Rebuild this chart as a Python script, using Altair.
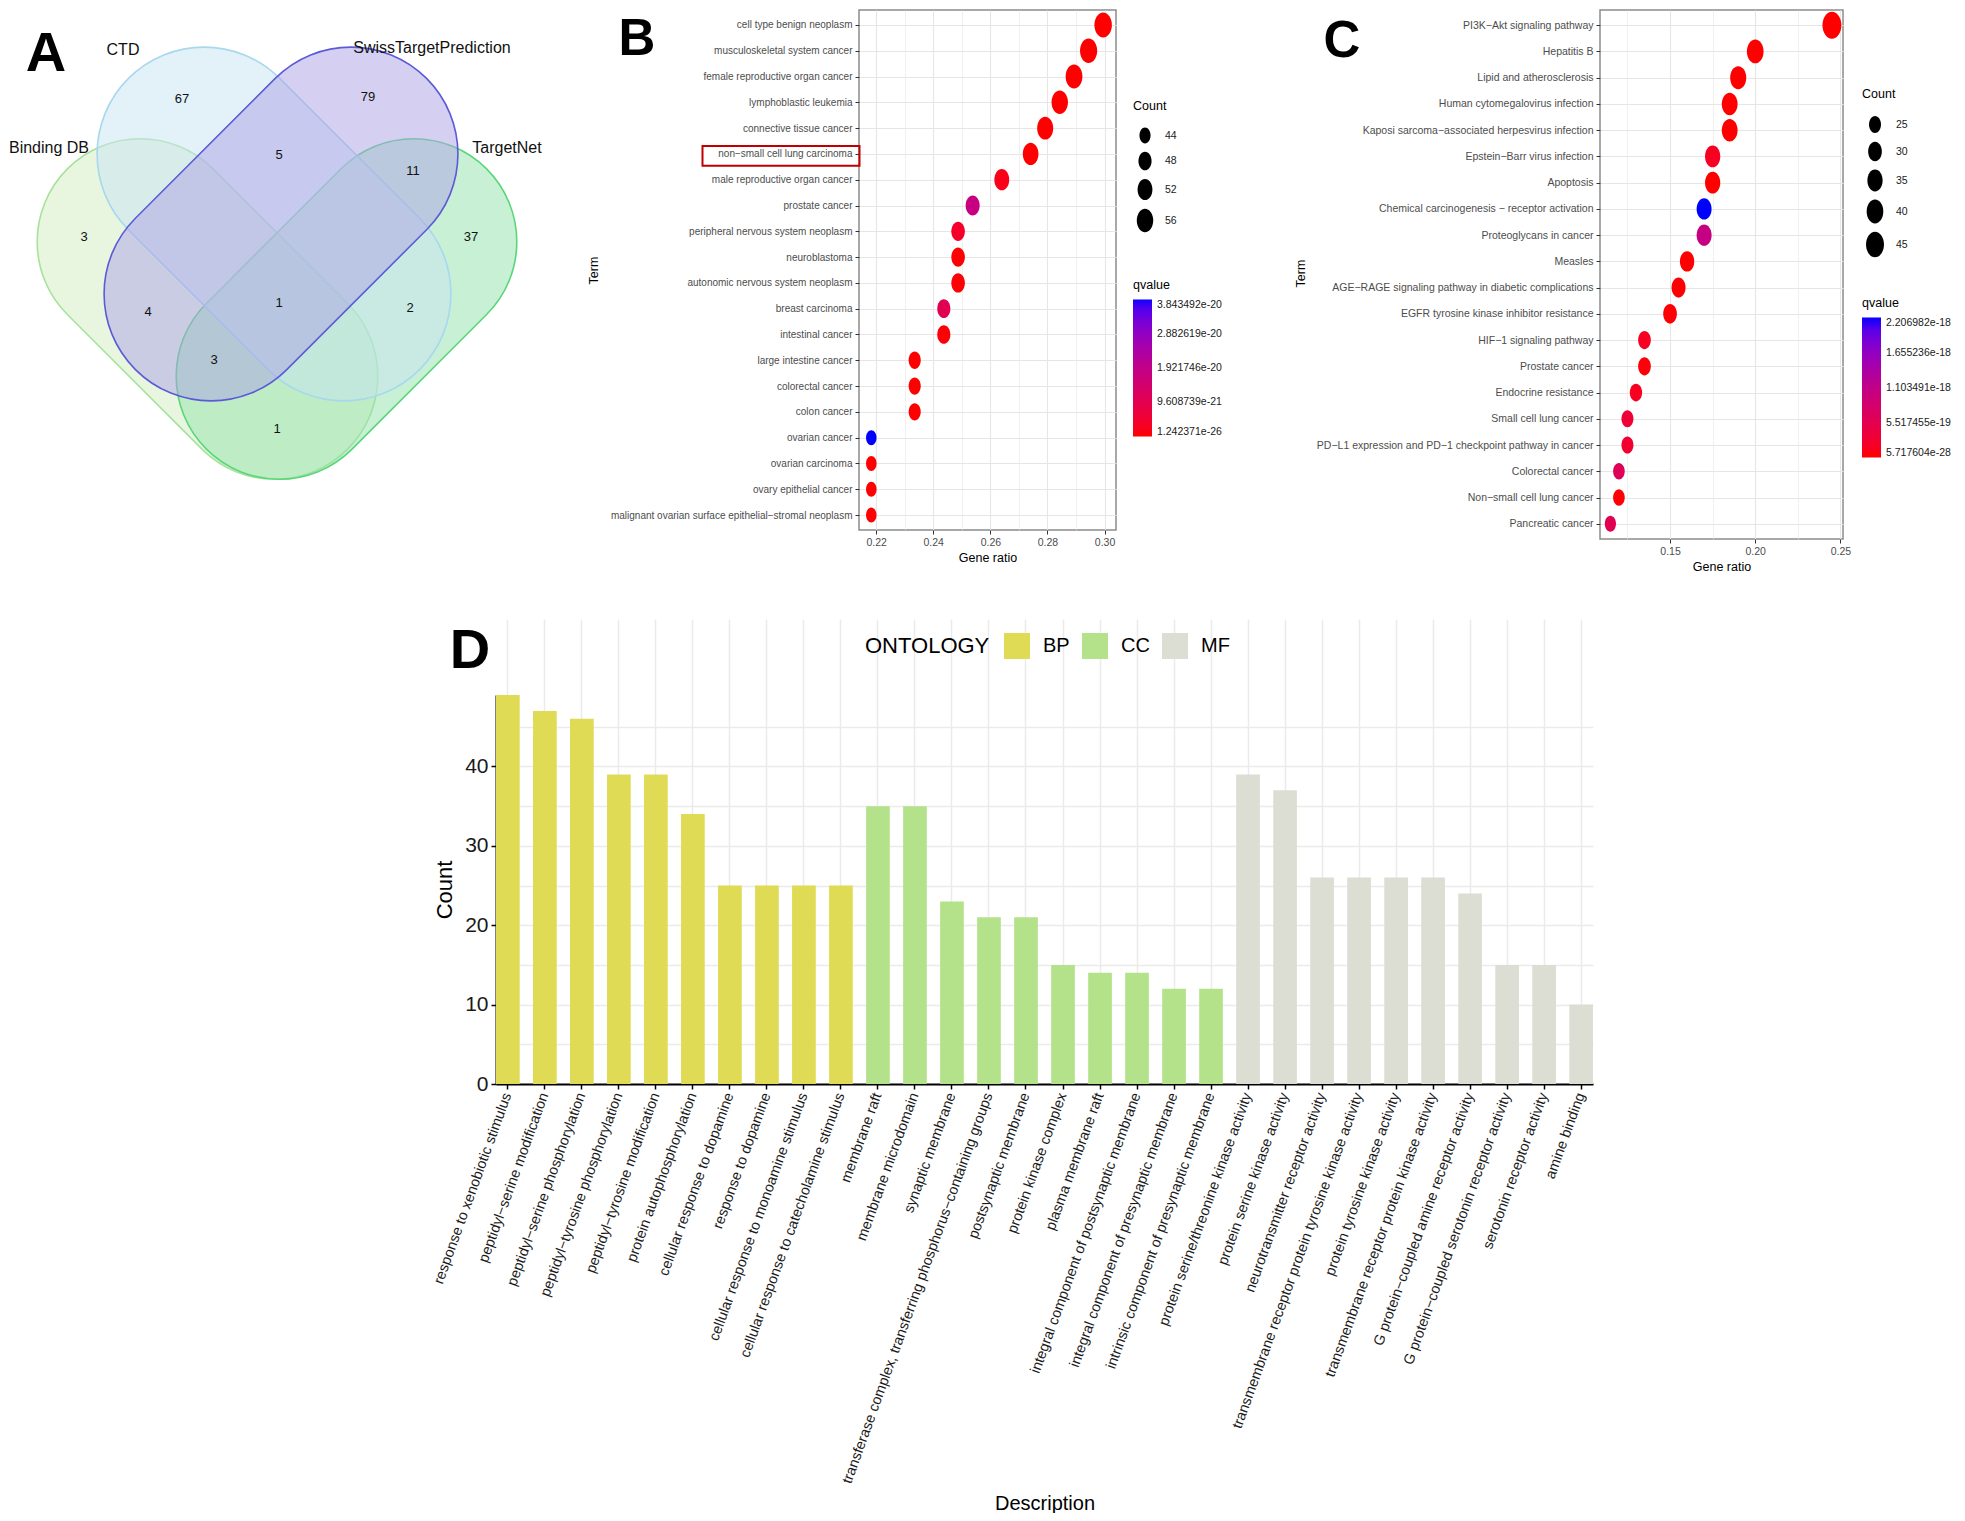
import altair as alt
import pandas as pd

SANS = "Liberation Sans, Arial, Helvetica, sans-serif"

# ---------------- Panel A: Venn diagram ----------------
set_names = ["Binding DB", "TargetNet", "CTD", "SwissTargetPrediction"]
region_counts = [67, 79, 3, 37, 5, 11, 1, 4, 2, 3, 1]

# geometry / layout of the Venn (page pixels)
set_cx = [207.5, 346.5, 274.0, 281.0]
set_cy = [308.0, 308.0, 223.0, 223.0]
set_angle = [45, 135, 45, 135]
set_size = [412 ** 2, 412 ** 2, 428 ** 2, 428 ** 2]
set_fill = ["#D1EDC1", "#91E1A9", "#C7E3F1", "#ABA1E5"]
set_stroke = ["#A6E29A", "#5AD67A", "#A8D8EE", "#5B5BD6"]
set_label_x = [49, 507, 123, 432]
set_label_y = [147, 147, 49, 47]
region_x = [182, 368, 84, 471, 279, 413, 279, 148, 410, 214, 277]
region_y = [98, 96, 236, 236, 154, 170, 302, 311, 307, 359, 428]

# panel letters (page pixels, alphabetic baseline)
letters_AB = ["A", "B"]
letters_AB_x = [46, 637]
letters_AB_y = [70, 54]
letter_C_x, letter_C_y = [1342], [56]

STADIUM = ("M -0.462,-0.5 L 0.462,-0.5 A 0.5,0.5 0 0 1 0.462,0.5 "
           "L -0.462,0.5 A 0.5,0.5 0 0 1 -0.462,-0.5 Z")
ELLIPSE = "M 0,-1 A 0.7,1 0 1,1 0,1 A 0.7,1 0 1,1 0,-1 Z"
RECT = "M -1,-0.125 L 1,-0.125 L 1,0.125 L -1,0.125 Z"

# ---------------- Panel B: disease enrichment ----------------
b_terms = [
    "cell type benign neoplasm", "musculoskeletal system cancer",
    "female reproductive organ cancer", "lymphoblastic leukemia",
    "connective tissue cancer", "non−small cell lung carcinoma",
    "male reproductive organ cancer", "prostate cancer",
    "peripheral nervous system neoplasm", "neuroblastoma",
    "autonomic nervous system neoplasm", "breast carcinoma",
    "intestinal cancer", "large intestine cancer", "colorectal cancer",
    "colon cancer", "ovarian cancer", "ovarian carcinoma",
    "ovary epithelial cancer",
    "malignant ovarian surface epithelial−stromal neoplasm",
]
b_ratio = [0.2995, 0.2944, 0.2893, 0.2843, 0.2792, 0.2741, 0.2640, 0.2538,
           0.2487, 0.2487, 0.2487, 0.2437, 0.2437, 0.2335, 0.2335, 0.2335,
           0.2183, 0.2183, 0.2183, 0.2183]
b_count = [59, 58, 57, 56, 55, 54, 52, 50, 49, 49, 49, 48, 48, 46, 46, 46,
           43, 43, 43, 43]
b_qvalue = [1.242371e-26, 3.1e-25, 8.5e-25, 2.4e-24, 6.2e-24, 1.1e-23,
            1.5e-21, 1.8e-20, 3.8e-21, 1.2e-22, 2.9e-22, 1.0e-20, 4.0e-22,
            5.1e-23, 6.3e-23, 7.4e-23, 3.843492e-20, 8.8e-23, 9.6e-23, 1.3e-22]
b_q_ticks = [1.242371e-26, 9.608739e-21, 1.921746e-20, 2.882619e-20, 3.843492e-20]
b_count_ticks = [44, 48, 52, 56]
b_x_ticks = [0.22, 0.23, 0.24, 0.25, 0.26, 0.27, 0.28, 0.29, 0.30]
b_highlight = ["non−small cell lung carcinoma"]

# ---------------- Panel C: KEGG enrichment ----------------
c_terms = [
    "PI3K−Akt signaling pathway", "Hepatitis B", "Lipid and atherosclerosis",
    "Human cytomegalovirus infection",
    "Kaposi sarcoma−associated herpesvirus infection",
    "Epstein−Barr virus infection", "Apoptosis",
    "Chemical carcinogenesis − receptor activation", "Proteoglycans in cancer",
    "Measles", "AGE−RAGE signaling pathway in diabetic complications",
    "EGFR tyrosine kinase inhibitor resistance", "HIF−1 signaling pathway",
    "Prostate cancer", "Endocrine resistance", "Small cell lung cancer",
    "PD−L1 expression and PD−1 checkpoint pathway in cancer",
    "Colorectal cancer", "Non−small cell lung cancer", "Pancreatic cancer",
]
c_ratio = [0.245, 0.200, 0.190, 0.185, 0.185, 0.175, 0.175, 0.170, 0.170,
           0.160, 0.155, 0.150, 0.135, 0.135, 0.130, 0.125, 0.125, 0.120,
           0.120, 0.115]
c_count = [49, 40, 38, 37, 37, 35, 35, 34, 34, 32, 31, 30, 27, 27, 26, 25,
           25, 24, 24, 23]
c_qvalue = [5.717604e-28, 1.2e-24, 3.4e-23, 8.9e-23, 1.3e-22, 1.6e-19,
            2.1e-21, 2.206982e-18, 1.05e-18, 5.2e-21, 8.3e-21, 1.2e-20,
            1.6e-19, 3.5e-20, 1.4e-19, 3.3e-19, 2.6e-19, 6.4e-19, 1.9e-20,
            5.8e-19]
c_q_ticks = [5.717604e-28, 5.517455e-19, 1.103491e-18, 1.655236e-18, 2.206982e-18]
c_count_ticks = [25, 30, 35, 40, 45]
c_x_ticks = [0.125, 0.15, 0.175, 0.20, 0.225, 0.25]

# ---------------- Panel D: GO enrichment ----------------
d_terms = [
    "response to xenobiotic stimulus", "peptidyl−serine modification",
    "peptidyl−serine phosphorylation", "peptidyl−tyrosine phosphorylation",
    "peptidyl−tyrosine modification", "protein autophosphorylation",
    "cellular response to dopamine", "response to dopamine",
    "cellular response to monoamine stimulus",
    "cellular response to catecholamine stimulus",
    "membrane raft", "membrane microdomain", "synaptic membrane",
    "transferase complex, transferring phosphorus−containing groups",
    "postsynaptic membrane", "protein kinase complex", "plasma membrane raft",
    "integral component of postsynaptic membrane",
    "integral component of presynaptic membrane",
    "intrinsic component of presynaptic membrane",
    "protein serine/threonine kinase activity", "protein serine kinase activity",
    "neurotransmitter receptor activity",
    "transmembrane receptor protein tyrosine kinase activity",
    "protein tyrosine kinase activity",
    "transmembrane receptor protein kinase activity",
    "G protein−coupled amine receptor activity",
    "G protein−coupled serotonin receptor activity",
    "serotonin receptor activity", "amine binding",
]
d_count = [49, 47, 46, 39, 39, 34, 25, 25, 25, 25,
           35, 35, 23, 21, 21, 15, 14, 14, 12, 12,
           39, 37, 26, 26, 26, 26, 24, 15, 15, 10]
d_ontology = ["BP", "BP", "BP", "BP", "BP", "BP", "BP", "BP", "BP", "BP",
              "CC", "CC", "CC", "CC", "CC", "CC", "CC", "CC", "CC", "CC",
              "MF", "MF", "MF", "MF", "MF", "MF", "MF", "MF", "MF", "MF"]
d_categories = ["BP", "CC", "MF"]
d_colors = ["#DFDB54", "#B4E28A", "#DCDED3"]
d_y_ticks = [0, 5, 10, 15, 20, 25, 30, 35, 40, 45]


def letter_layer(labels, xs, ys, xscale, yscale, size=56):
    df = pd.DataFrame({"l": labels, "x": xs, "y": ys})
    return alt.Chart(df).mark_text(
        font=SANS, fontSize=size, fontWeight="bold", color="black",
        baseline="alphabetic", align="center"
    ).encode(
        x=alt.X("x:Q", scale=xscale, axis=None),
        y=alt.Y("y:Q", scale=yscale, axis=None),
        text="l:N",
    )


# ======================= build panel A =======================
xA = alt.Scale(domain=[8, 709], nice=False, zero=False)
yA = alt.Scale(domain=[9, 529], nice=False, zero=False, reverse=True)

df_sets = pd.DataFrame({"set": set_names, "cx": set_cx, "cy": set_cy,
                        "angle": set_angle, "size": set_size,
                        "order": [0, 1, 2, 3]})
shapes = alt.Chart(df_sets).mark_point(
    shape=STADIUM, filled=True, opacity=1, fillOpacity=0.5,
    strokeOpacity=1, strokeWidth=1.6
).encode(
    x=alt.X("cx:Q", scale=xA, axis=None),
    y=alt.Y("cy:Q", scale=yA, axis=None),
    angle=alt.Angle("angle:Q", scale=None),
    size=alt.Size("size:Q", scale=None, legend=None),
    fill=alt.Fill("set:N", scale=alt.Scale(domain=set_names, range=set_fill), legend=None),
    stroke=alt.Stroke("set:N", scale=alt.Scale(domain=set_names, range=set_stroke), legend=None),
    order=alt.Order("order:Q"),
)
df_setlab = pd.DataFrame({"set": set_names, "x": set_label_x, "y": set_label_y})
set_text = alt.Chart(df_setlab).mark_text(
    font=SANS, fontSize=16, color="#111111"
).encode(x=alt.X("x:Q", scale=xA, axis=None), y=alt.Y("y:Q", scale=yA, axis=None),
         text="set:N")
df_regions = pd.DataFrame({"n": region_counts, "x": region_x, "y": region_y})
region_text = alt.Chart(df_regions).mark_text(
    font=SANS, fontSize=13, color="#111111"
).encode(x=alt.X("x:Q", scale=xA, axis=None), y=alt.Y("y:Q", scale=yA, axis=None),
         text="n:Q")

panelA = alt.layer(
    shapes, set_text, region_text,
    letter_layer(["A"], letters_AB_x[:1], letters_AB_y[:1], xA, yA, 56),
    letter_layer(["B"], letters_AB_x[1:], letters_AB_y[1:], xA, yA, 51),
).properties(width=701, height=520)

# gap column that carries the "C" letter
panelGap = letter_layer(
    ["C"], letter_C_x, letter_C_y,
    alt.Scale(domain=[1266, 1450], nice=False, zero=False),
    alt.Scale(domain=[9, 69], nice=False, zero=False, reverse=True), 51,
).properties(width=184, height=60)


# ======================= dot plot builder =======================
def dot_panel(terms, ratios, counts, qvals, xdom, xvals, minor_test, label_expr,
              width, height, size_dom, size_rng, size_vals, q_vals,
              leg_x, size_leg_y, q_leg_y, grad_len, term_tx, term_ty,
              label_size, highlight=None):
    df = pd.DataFrame({"term": terms, "ratio": ratios, "count": counts,
                       "qvalue": qvals})
    ysc = alt.Scale(padding=0.58)
    xaxis = alt.Axis(
        title="Gene ratio", values=xvals, labelExpr=label_expr, grid=True,
        gridColor="#E6E6E6",
        gridWidth={"condition": {"test": minor_test, "value": 0.6}, "value": 1.1},
        tickOpacity={"condition": {"test": minor_test, "value": 0}, "value": 1},
        tickColor="#333333", tickSize=4, domain=False,
        labelFont=SANS, labelFontSize=10.5, labelColor="#4D4D4D",
        labelPadding=3, titleFont=SANS, titleFontSize=12.5,
        titleFontWeight="normal", titleColor="black", titlePadding=4)
    yaxis = alt.Axis(
        title="Term", grid=True, gridColor="#E6E6E6", gridWidth=1.1,
        tickColor="#333333", tickSize=4, domain=False,
        labelFont=SANS, labelFontSize=label_size, labelColor="#4D4D4D",
        labelPadding=3, labelLimit=0, titleFont=SANS, titleFontSize=12.5,
        titleFontWeight="normal", titleColor="black",
        titleX=term_tx, titleY=term_ty)
    size_leg = alt.Legend(
        title="Count", orient="none", legendX=leg_x, legendY=size_leg_y,
        values=size_vals, symbolType=ELLIPSE, symbolFillColor="black",
        symbolStrokeColor="black", symbolStrokeWidth=0, symbolOpacity=1,
        titleFont=SANS, titleFontSize=12.5, titleFontWeight="normal",
        titleColor="black", titlePadding=15, labelFont=SANS,
        labelFontSize=10.5, labelColor="#1A1A1A", labelOffset=8, rowPadding=8)
    q_leg = alt.Legend(
        title="qvalue", orient="none", legendX=leg_x, legendY=q_leg_y,
        values=q_vals, format=".6e", gradientLength=grad_len,
        gradientThickness=19, gradientStrokeWidth=0,
        titleFont=SANS, titleFontSize=12.5, titleFontWeight="normal",
        titleColor="black", titlePadding=8, labelFont=SANS,
        labelFontSize=10.5, labelColor="#1A1A1A", labelOffset=5,
        labelOverlap=False)
    pts = alt.Chart(df).mark_point(
        shape=ELLIPSE, filled=True, opacity=1, strokeWidth=0
    ).encode(
        x=alt.X("ratio:Q", scale=alt.Scale(domain=xdom, nice=False, zero=False),
                axis=xaxis),
        y=alt.Y("term:N", sort=terms, scale=ysc, axis=yaxis),
        color=alt.Color("qvalue:Q", scale=alt.Scale(
            type="linear", domain=[min(q_vals), max(q_vals)],
            range=["#FF0000", "#0000FF"], interpolate="lab"), legend=q_leg),
        size=alt.Size("count:Q", scale=alt.Scale(domain=size_dom, range=size_rng,
                                                  zero=False), legend=size_leg),
    )
    layers = [pts]
    if highlight:
        box = alt.Chart(pd.DataFrame({"term": highlight})).mark_point(
            shape=RECT, filled=False, stroke="#C00000", strokeWidth=2,
            opacity=1, size=157 ** 2, yOffset=2
        ).encode(x=alt.value(-78), y=alt.Y("term:N", sort=terms, scale=ysc))
        layers.append(box)
    return alt.layer(*layers).properties(
        width=width, height=height,
        view=alt.ViewBackground(stroke="#8C8C8C", strokeWidth=1.5))


panelB = dot_panel(
    b_terms, b_ratio, b_count, b_qvalue, [0.2140, 0.3040], b_x_ticks,
    "round(datum.value*100) % 2 == 1",
    "round(datum.value*100) % 2 == 0 ? format(datum.value, '.2f') : ''",
    257, 520, [43, 59], [225, 625], b_count_ticks, b_q_ticks,
    274, 90, 269, 137, -259, 260, 10, highlight=b_highlight)

panelC = dot_panel(
    c_terms, c_ratio, c_count, c_qvalue, [0.1089, 0.2515], c_x_ticks,
    "round(datum.value*1000) % 50 != 0",
    "round(datum.value*1000) % 50 == 0 ? format(datum.value, '.2f') : ''",
    243, 529, [23, 49], [256, 729], c_count_ticks, c_q_ticks,
    262, 78, 287, 140, -293, 263, 10.5)

# ======================= panel D =======================
# view starts at page (8, 618); scale ranges put the plot at x 488..1585, y 76..465
dfD = pd.DataFrame({"desc": d_terms, "count": d_count, "ont": d_ontology})
d_axis_x = alt.Axis(
    title="Description", labelAngle=-70, labelFont=SANS, labelFontSize=14.5,
    labelColor="#1A1A1A", labelLimit=0, labelPadding=4, domainColor="black",
    domainWidth=2, tickColor="black", tickSize=5, tickWidth=1.5, grid=True,
    gridColor="#EBEBEB", gridWidth=1.5, titleFont=SANS, titleFontSize=20,
    titleFontWeight="normal", titleColor="black", titleY=419,
    titleBaseline="middle")
d_axis_y = alt.Axis(
    title="Count", values=d_y_ticks, offset=-488,
    labelExpr="datum.value % 10 == 0 ? datum.label : ''",
    tickOpacity={"condition": {"test": "datum.value % 10 != 0", "value": 0}, "value": 1},
    labelFont=SANS, labelFontSize=21, labelColor="#1A1A1A", labelPadding=3,
    domainColor="black", domainWidth=2, tickColor="black", tickSize=5,
    tickWidth=1.5, grid=True, gridColor="#EBEBEB", gridWidth=1.5,
    titleFont=SANS, titleFontSize=22, titleFontWeight="normal",
    titleColor="black", titlePadding=8)
d_legend = alt.Legend(
    title="ONTOLOGY", orient="none", direction="horizontal", legendX=857,
    legendY=14, titleOrient="left", titleFont=SANS, titleFontSize=22,
    titleFontWeight="normal", titleColor="black", titlePadding=14,
    titleBaseline="middle", labelFont=SANS, labelFontSize=20,
    labelColor="black", symbolType="square", symbolSize=676,
    symbolStrokeWidth=0, symbolOpacity=1, labelOffset=13, columnPadding=12)
bars = alt.Chart(dfD).mark_bar(opacity=1).encode(
    x=alt.X("desc:N", sort=d_terms,
            scale=alt.Scale(range=[488, 1585], paddingInner=0.36, paddingOuter=0),
            axis=d_axis_x),
    y=alt.Y("count:Q", scale=alt.Scale(domain=[0, 49], range=[465, 76],
                                       nice=False, zero=True),
            axis=d_axis_y),
    color=alt.Color("ont:N", scale=alt.Scale(domain=d_categories, range=d_colors),
                    legend=d_legend),
)
# panel letter "D" (annotation, pixel position inside the D view)
d_letter = alt.Chart(pd.DataFrame({"l": ["D"]})).mark_text(
    font=SANS, fontSize=56, fontWeight="bold", color="black",
    baseline="alphabetic", align="center"
).encode(x=alt.value(462), y=alt.value(49), text="l:N")
panelD = alt.layer(bars, d_letter).properties(width=701, height=465)

chart = alt.concat(
    panelA, panelB, panelGap, panelC, panelD, columns=4,
    spacing={"row": 80, "column": 150}, align="each", bounds="flush",
).resolve_scale(
    color="independent", size="independent", fill="independent",
    stroke="independent", x="independent", y="independent",
).properties(
    padding={"left": 0, "top": 1, "right": 0, "bottom": 0},
    background="white",
).configure_view(strokeWidth=0)

chart.save("out.html", embed_options={"renderer": "svg", "actions": False})
